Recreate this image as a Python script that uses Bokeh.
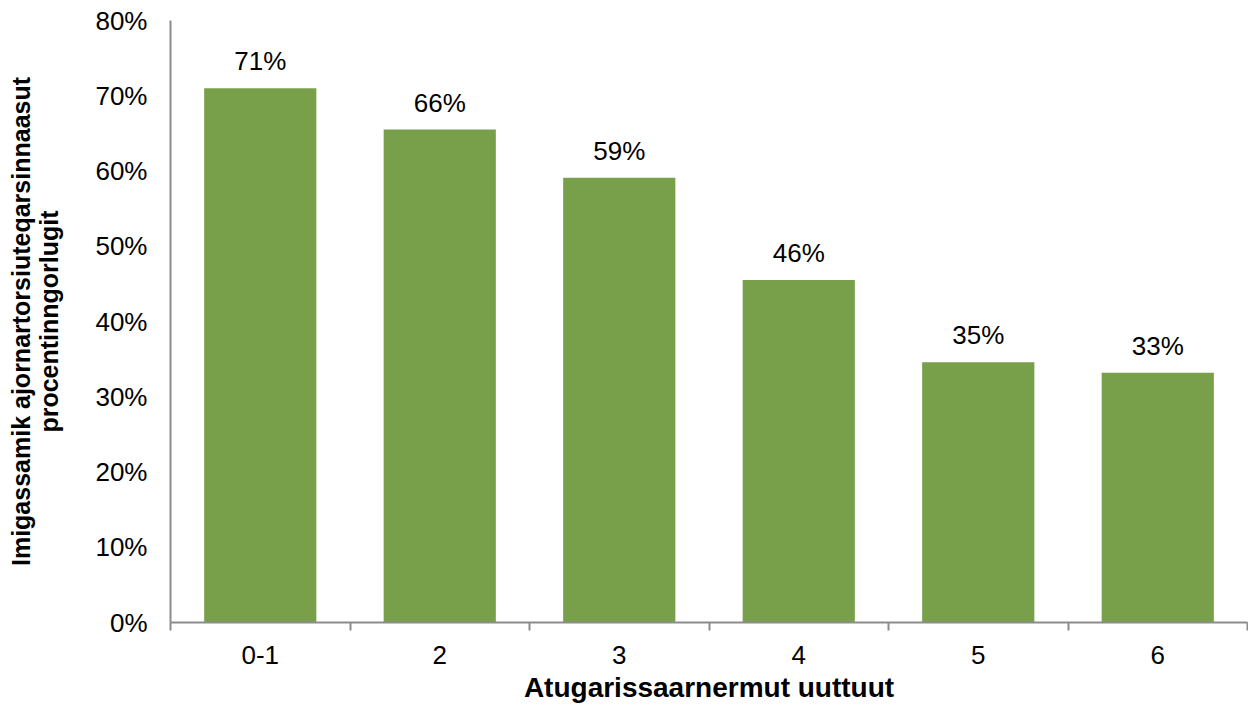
import numpy as np
from bokeh.plotting import figure
from bokeh.models import ColumnDataSource, FixedTicker, Range1d, NumeralTickFormatter
from bokeh.core.properties import value
from bokeh.embed import file_html
from bokeh.resources import INLINE

categories = ["0-1", "2", "3", "4", "5", "6"]
shares = [0.710, 0.655, 0.591, 0.455, 0.346, 0.332]
share_labels = ["71%", "66%", "59%", "46%", "35%", "33%"]
y_ticks = [0.0, 0.1, 0.2, 0.3, 0.4, 0.5, 0.6, 0.7, 0.8]
x_title = "Atugarissaarnermut uuttuut"
y_title = "Imigassamik ajornartorsiuteqarsinnaasut\nprocentinngorlugit"

FONT = "Liberation Sans"
GREEN = "#78A04B"
AXIS = "#8C8C8C"

pos = np.arange(len(categories)) + 0.5
src = ColumnDataSource(dict(x=pos, y=shares, lab=share_labels))

p = figure(width=1248, height=705, output_backend="svg", toolbar_location=None,
           x_range=Range1d(0, len(categories)), y_range=Range1d(0, 0.8),
           min_border_left=170, min_border_right=1, min_border_top=20, min_border_bottom=83)
p.outline_line_color = None
p.grid.grid_line_color = None
p.background_fill_color = "white"

p.vbar(x="x", top="y", width=0.625, bottom=0, source=src, fill_color=GREEN, line_color=None)
p.text(x="x", y="y", text="lab", source=src, text_align="center", text_baseline="alphabetic",
       y_offset=-27, text_font=value(FONT), text_font_size="26px", text_color="#000000")

xa = p.xaxis[0]
xa.ticker = FixedTicker(ticks=list(pos), minor_ticks=list(np.arange(len(categories) + 1)))
xa.major_label_overrides = {float(v): c for v, c in zip(pos, categories)}
xa.major_tick_line_color = None
xa.major_tick_out = 0
xa.major_tick_in = 0
xa.minor_tick_line_color = AXIS
xa.minor_tick_line_width = 2
xa.minor_tick_out = 8
xa.minor_tick_in = 0
xa.axis_line_color = AXIS
xa.axis_line_width = 2
xa.major_label_standoff = 15
xa.major_label_text_font = FONT
xa.major_label_text_font_size = "26px"
xa.major_label_text_color = "#000000"
xa.axis_label = x_title
xa.axis_label_text_font = FONT
xa.axis_label_text_font_size = "28px"
xa.axis_label_text_font_style = "bold"
xa.axis_label_text_color = "#000000"
xa.axis_label_standoff = 5

ya = p.yaxis[0]
ya.ticker = FixedTicker(ticks=y_ticks)
ya.formatter = NumeralTickFormatter(format="0%")
ya.major_tick_line_color = None
ya.minor_tick_line_color = None
ya.major_tick_out = 0
ya.axis_line_color = AXIS
ya.axis_line_width = 2
ya.major_label_standoff = 23
ya.major_label_text_font = FONT
ya.major_label_text_font_size = "26px"
ya.major_label_text_color = "#000000"
ya.axis_label = y_title
ya.axis_label_text_font = FONT
ya.axis_label_text_font_size = "25px"
ya.axis_label_text_font_style = "bold"
ya.axis_label_text_color = "#000000"
ya.axis_label_text_align = "center"
ya.axis_label_text_line_height = 1.0
ya.axis_label_standoff = 29

open("out.html", "w").write(file_html(p, INLINE))
